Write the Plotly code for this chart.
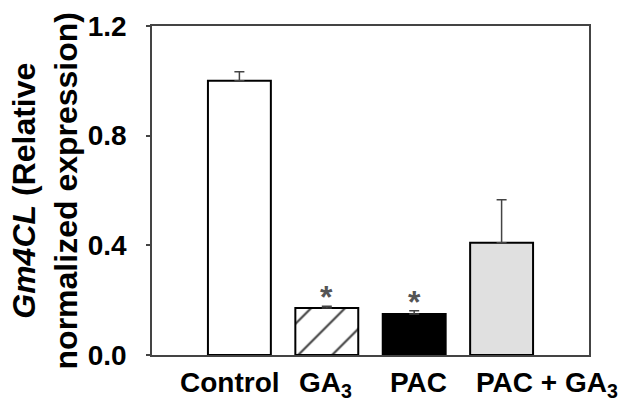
import plotly.graph_objects as go

categories = ["Control", "GA<sub>3</sub>", "PAC", "PAC + GA<sub>3</sub>"]
values = [1.0, 0.171, 0.150, 0.409]
errors = [0.033, 0.007, 0.011, 0.157]
significant = [False, True, True, False]
bar_colors = ["white", "white", "black", "#e0e0e0"]
bar_patterns = ["", "/", "", ""]
y_ticks = [0.0, 0.4, 0.8, 1.2]
y_ticktext = ["0.0", "0.4", "0.8", "1.2"]
label_shift = [-9, -1, 4, 45]

x = list(range(len(categories)))
FONT = "Liberation Sans, Arial, sans-serif"

fig = go.Figure()
fig.add_trace(go.Bar(
    x=x, y=values, width=0.72,
    marker=dict(color=bar_colors, line=dict(color="black", width=2),
                pattern=dict(shape=bar_patterns, fgcolor="#000000", fgopacity=1,
                             fillmode="overlay", size=24, solidity=0.09)),
    error_y=dict(type="data", array=errors, arrayminus=[0]*len(values), symmetric=False,
                 color="#444", thickness=1.5, width=5),
    showlegend=False,
))

annotations = []
for i, (v, e, s) in enumerate(zip(values, errors, significant)):
    if s:
        annotations.append(dict(x=i, y=v + e, xref="x", yref="y", text="<b>*</b>",
                                showarrow=False, yanchor="bottom", yshift=-11,
                                font=dict(family=FONT, size=32, color="#555")))
for i, (c, sh) in enumerate(zip(categories, label_shift)):
    annotations.append(dict(x=i, y=0, xref="x", yref="y", text="<b>" + c + "</b>",
                            showarrow=False, yanchor="top", xanchor="center", xshift=sh, yshift=-10,
                            font=dict(family=FONT, size=28, color="black")))
annotations.append(dict(x=-0.245, y=0.5, xref="paper", yref="paper",
                        text="<b><i>Gm4CL</i> (Relative<br>normalized expression)</b>",
                        textangle=-90, showarrow=False, xanchor="center", yanchor="middle",
                        font=dict(family=FONT, size=32, color="black")))

fig.update_layout(
    width=628, height=403,
    margin=dict(l=152, r=39, t=26, b=48),
    paper_bgcolor="white", plot_bgcolor="white",
    annotations=annotations,
    xaxis=dict(range=[-1, 4], showline=True, linecolor="#444", linewidth=1.5, mirror=True,
               showticklabels=False, ticks="", showgrid=False, zeroline=False),
    yaxis=dict(range=[0, 1.2], tickvals=y_ticks, ticktext=["<b>" + t + "</b>" for t in y_ticktext],
               ticks="outside", ticklen=4, tickcolor="#444", tickwidth=1.5,
               showline=True, linecolor="#444", linewidth=1.5, mirror=True,
               showgrid=False, zeroline=False, ticklabelstandoff=14,
               tickfont=dict(family=FONT, size=28, color="black")),
)

fig.write_html("out.html", config={"displayModeBar": False},
               post_script="document.body.style.margin='0';")
